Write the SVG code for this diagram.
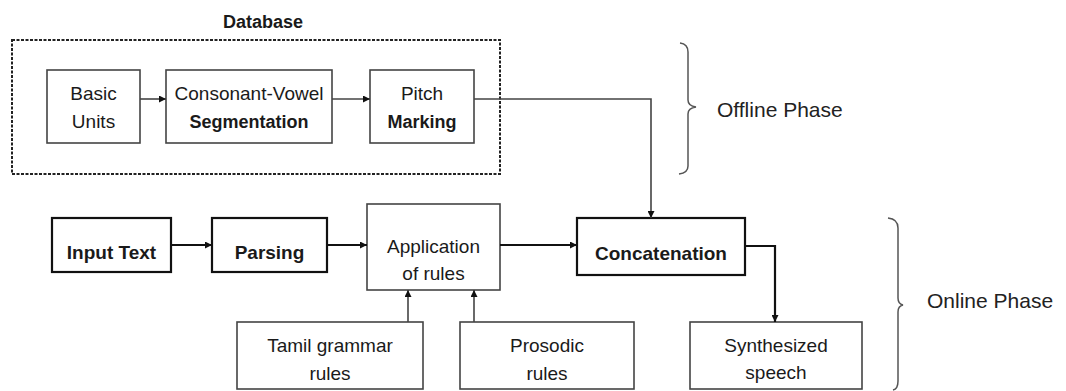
<svg xmlns="http://www.w3.org/2000/svg" width="1066" height="391" viewBox="0 0 1066 391">
<defs>
<style>
text{font-family:"Liberation Sans",Arial,sans-serif;font-size:19px;fill:#1a1a1a;text-anchor:middle}
.b{font-weight:bold}
.ph{font-size:21px;text-anchor:start;fill:#222}
.thin{fill:#fff;stroke:#444;stroke-width:1.6}
.thick{fill:#fff;stroke:#111;stroke-width:2.2}
.cthin{fill:none;stroke:#444;stroke-width:1.6}
.cthick{fill:none;stroke:#111;stroke-width:2.2}
.brace{fill:none;stroke:#555;stroke-width:1.5}
</style>
<marker id="ah" viewBox="0 0 10 10" refX="10" refY="5" markerWidth="8" markerHeight="7" orient="auto" markerUnits="userSpaceOnUse">
<path d="M0,0 L10,5 L0,10 z" fill="#111"/>
</marker>
</defs>
<rect width="1066" height="391" fill="#fff"/>

<g id="database">
<rect x="12" y="40" width="488" height="134" fill="none" stroke="#222" stroke-width="2" stroke-dasharray="3 1.5"/>
<text x="263" y="28" class="b" style="font-size:18px">Database</text>
</g>

<g id="basic-units">
<rect class="thin" x="47" y="70" width="93" height="73"/>
<text x="93.5" y="100">Basic</text>
<text x="93.5" y="128">Units</text>
</g>
<g id="cv-segmentation">
<rect class="thin" x="166" y="70" width="166" height="73"/>
<text x="249" y="100">Consonant-Vowel</text>
<text x="249" y="128" class="b" style="font-size:18px">Segmentation</text>
</g>
<g id="pitch-marking">
<rect class="thin" x="370" y="70" width="104" height="73"/>
<text x="422" y="100">Pitch</text>
<text x="422" y="128" class="b" style="font-size:18px">Marking</text>
</g>

<g id="input-text">
<rect class="thick" x="52" y="218" width="119" height="54"/>
<text x="111.5" y="259" class="b">Input Text</text>
</g>
<g id="parsing">
<rect class="thick" x="212" y="218" width="115" height="54"/>
<text x="269.5" y="259" class="b">Parsing</text>
</g>
<g id="application">
<rect class="thin" x="367" y="204" width="133" height="86"/>
<text x="433.5" y="253">Application</text>
<text x="433.5" y="280">of rules</text>
</g>
<g id="concatenation">
<rect class="thick" x="577" y="218" width="168" height="57"/>
<text x="661" y="260" class="b">Concatenation</text>
</g>
<g id="tamil-grammar">
<rect class="thin" x="237" y="322" width="186" height="67"/>
<text x="330" y="352">Tamil grammar</text>
<text x="330" y="380">rules</text>
</g>
<g id="prosodic">
<rect class="thin" x="460" y="322" width="174" height="67"/>
<text x="547" y="352">Prosodic</text>
<text x="547" y="380">rules</text>
</g>
<g id="synthesized">
<rect class="thin" x="690" y="322" width="172" height="67"/>
<text x="776" y="352">Synthesized</text>
<text x="776" y="379">speech</text>
</g>

<g id="offline-phase">
<path class="brace" d="M680,43 Q688,44 688,52 L688,100 Q688,106 696,107 Q688,108 688,114 L688,166 Q688,173 679,174"/>
<text x="717" y="117" class="ph">Offline Phase</text>
</g>
<g id="online-phase">
<path class="brace" d="M888,218 Q898,219 898,228 L898,298 Q898,304 903,305 Q898,306 898,312 L898,381 Q898,389 893,390"/>
<text x="927" y="308" class="ph">Online Phase</text>
</g>

<g id="connectors">
<line class="cthin" x1="140" y1="99" x2="166" y2="99" marker-end="url(#ah)"/>
<line class="cthin" x1="332" y1="99" x2="370" y2="99" marker-end="url(#ah)"/>
<polyline class="cthin" points="474,99 651,99 651,218" marker-end="url(#ah)"/>
<line class="cthick" x1="171" y1="245" x2="212" y2="245" marker-end="url(#ah)"/>
<line class="cthick" x1="327" y1="245" x2="367" y2="245" marker-end="url(#ah)"/>
<line class="cthick" x1="500" y1="245" x2="577" y2="245" marker-end="url(#ah)"/>
<polyline class="cthick" points="745,246 775,246 775,322" marker-end="url(#ah)"/>
<line class="cthin" x1="408" y1="322" x2="408" y2="290" marker-end="url(#ah)"/>
<line class="cthin" x1="474" y1="322" x2="474" y2="290" marker-end="url(#ah)"/>
</g>
</svg>
